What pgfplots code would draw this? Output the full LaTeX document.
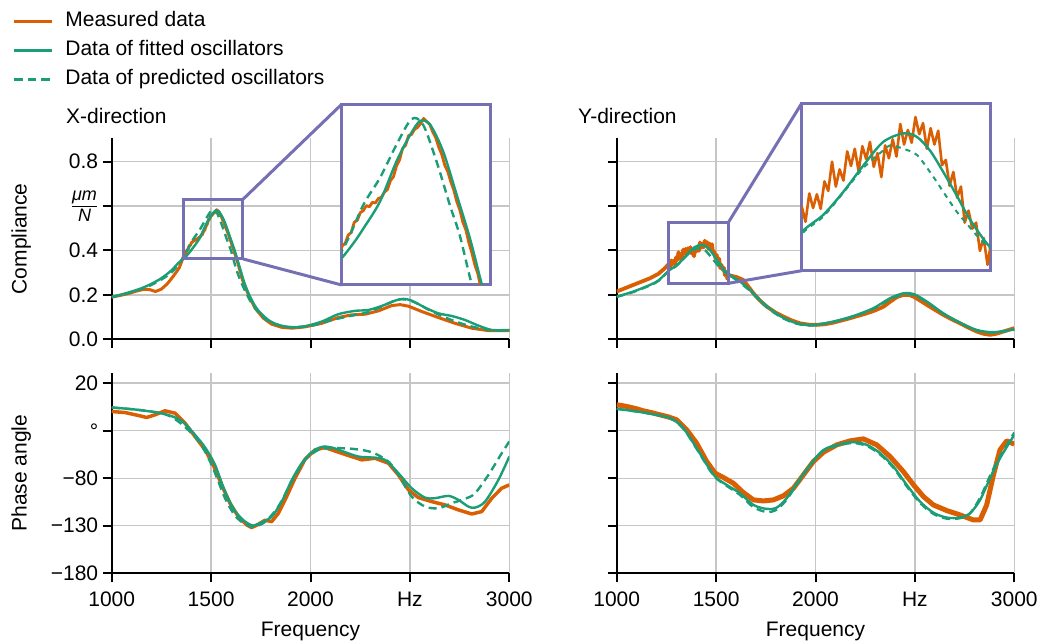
\documentclass[border=0pt]{standalone}
\usepackage{fontspec}
\setmainfont{Liberation Sans}
\usepackage{amsmath}
\usepackage{pgfplots}
\pgfplotsset{compat=1.18}
\usepackage{pgfplotstable}
\definecolor{cMeas}{HTML}{D95F02}
\definecolor{cFit}{HTML}{1B9E77}
\definecolor{cBox}{HTML}{7570B3}
\newcommand{\fz}{\fontsize{21}{25}\selectfont}
\newcommand{\munit}{$\genfrac{}{}{1.5pt}{}{\hbox{\fontsize{18}{20}\selectfont\itshape μm}}{\hbox{\fontsize{18}{20}\selectfont\itshape N}}$}

\pgfplotstableread{
f v
1000 0.190
1040 0.197
1080 0.205
1120 0.216
1160 0.225
1190 0.224
1220 0.215
1250 0.226
1280 0.250
1310 0.284
1340 0.322
1360 0.370
1366 0.384
1372 0.388
1378 0.401
1384 0.405
1390 0.421
1396 0.424
1402 0.436
1408 0.439
1414 0.447
1420 0.445
1426 0.452
1432 0.451
1438 0.458
1444 0.460
1450 0.468
1456 0.472
1462 0.486
1468 0.492
1474 0.509
1480 0.518
1486 0.536
1492 0.541
1498 0.556
1504 0.558
1510 0.566
1516 0.569
1522 0.575
1528 0.583
1534 0.578
1540 0.574
1546 0.562
1552 0.553
1558 0.538
1564 0.527
1570 0.510
1576 0.500
1582 0.484
1588 0.471
1594 0.453
1600 0.440
1606 0.421
1612 0.409
1618 0.389
1624 0.373
1630 0.354
1636 0.340
1642 0.318
1648 0.302
1654 0.280
1660 0.262
1688 0.200
1721 0.140
1763 0.095
1805 0.068
1855 0.054
1906 0.050
1973 0.056
2057 0.072
2140 0.098
2207 0.110
2275 0.113
2342 0.128
2409 0.152
2451 0.156
2493 0.149
2560 0.125
2643 0.098
2727 0.072
2811 0.050
2895 0.039
3000 0.039
}\LTmeas

\pgfplotstableread{
f v
1000 0.191
1050 0.202
1100 0.215
1150 0.230
1200 0.250
1250 0.275
1300 0.310
1335 0.343
1365 0.365
1390 0.390
1408 0.411
1441 0.453
1474 0.516
1501 0.557
1521 0.579
1541 0.573
1567 0.531
1594 0.463
1620 0.396
1643 0.326
1671 0.245
1704 0.177
1738 0.129
1788 0.087
1838 0.065
1906 0.054
1973 0.059
2057 0.080
2140 0.113
2224 0.128
2291 0.132
2358 0.150
2425 0.174
2467 0.182
2509 0.174
2576 0.143
2643 0.117
2710 0.105
2777 0.087
2844 0.062
2912 0.042
3000 0.042
}\LTfit

\pgfplotstableread{
f v
1000 0.190
1100 0.212
1200 0.245
1300 0.300
1368 0.380
1408 0.448
1441 0.490
1474 0.542
1504 0.582
1527 0.573
1554 0.515
1580 0.448
1600 0.400
1623 0.326
1645 0.270
1670 0.220
1700 0.168
1740 0.120
1790 0.080
1850 0.062
1900 0.055
2000 0.060
2100 0.085
2200 0.105
2300 0.125
2400 0.165
2450 0.180
2500 0.175
2550 0.155
2600 0.130
2700 0.090
2800 0.060
2900 0.042
3000 0.040
}\LTpred

\pgfplotstableread{
f v
1000 -9.8
1067 -10.9
1134 -14.0
1176 -16.1
1218 -13.3
1268 -9.1
1319 -11.6
1369 -22.1
1419 -36.1
1470 -50.2
1511 -66.0
1553 -87.0
1595 -106.3
1637 -120.4
1679 -129.1
1704 -131.9
1738 -128.4
1771 -124.2
1805 -125.6
1838 -116.9
1880 -99.3
1922 -80.0
1973 -60.0
2023 -50.2
2073 -47.7
2140 -52.6
2207 -57.2
2258 -60.7
2325 -59.0
2392 -64.2
2442 -76.5
2493 -92.3
2543 -100.4
2610 -104.6
2677 -108.1
2744 -113.3
2811 -117.6
2861 -115.1
2912 -101.0
2962 -90.5
3000 -87.0
}\LBmeas

\pgfplotstableread{
f v
1000 -5.6
1134 -8.1
1268 -12.6
1352 -19.7
1419 -34.4
1470 -47.7
1520 -66.0
1570 -94.0
1620 -114.4
1671 -125.6
1713 -129.8
1755 -126.3
1805 -120.4
1855 -104.6
1906 -81.8
1956 -64.2
2006 -52.6
2057 -47.0
2107 -47.7
2174 -52.6
2241 -57.2
2308 -58.2
2375 -60.7
2442 -74.7
2509 -90.5
2576 -100.4
2626 -101.0
2694 -98.6
2744 -102.8
2794 -109.8
2828 -110.9
2878 -104.6
2945 -81.8
3000 -57.2
}\LBfit

\pgfplotstableread{
f v
1000 -5.6
1268 -12.6
1402 -32.6
1470 -52.0
1520 -74.7
1570 -101.0
1620 -119.3
1671 -128.4
1713 -130.9
1771 -126.0
1838 -109.8
1906 -83.5
1973 -60.7
2040 -50.2
2107 -48.4
2207 -49.0
2308 -52.6
2392 -62.5
2442 -76.5
2509 -99.3
2576 -109.8
2643 -111.6
2710 -106.3
2777 -101.7
2828 -95.8
2895 -76.5
2962 -53.7
3000 -41.4
}\LBpred

\pgfplotstableread{
f v
1000 0.215
1042 0.230
1084 0.245
1126 0.260
1168 0.275
1210 0.295
1240 0.318
1263 0.340
1269 0.322
1275 0.355
1281 0.338
1287 0.354
1293 0.337
1299 0.369
1305 0.358
1311 0.392
1317 0.363
1323 0.383
1329 0.370
1335 0.404
1341 0.387
1347 0.407
1353 0.381
1359 0.410
1365 0.395
1371 0.415
1377 0.386
1383 0.402
1389 0.374
1395 0.411
1401 0.396
1407 0.418
1413 0.398
1419 0.436
1425 0.412
1431 0.429
1437 0.414
1443 0.444
1449 0.424
1455 0.437
1461 0.407
1467 0.431
1473 0.412
1479 0.428
1485 0.388
1491 0.394
1497 0.364
1503 0.380
1509 0.350
1515 0.363
1521 0.321
1527 0.335
1533 0.314
1539 0.321
1545 0.288
1551 0.303
1557 0.272
1561 0.290
1580 0.285
1604 0.280
1637 0.267
1660 0.240
1688 0.207
1720 0.175
1755 0.147
1800 0.120
1839 0.102
1880 0.085
1922 0.072
1964 0.066
2006 0.065
2048 0.068
2090 0.075
2132 0.085
2174 0.095
2216 0.106
2258 0.117
2300 0.130
2342 0.147
2380 0.172
2409 0.190
2442 0.200
2470 0.200
2493 0.192
2525 0.175
2560 0.155
2600 0.133
2643 0.110
2685 0.090
2727 0.072
2770 0.052
2811 0.035
2845 0.025
2878 0.020
2910 0.025
2945 0.035
3000 0.050
}\RTmeas

\pgfplotstableread{
f v
1000 0.192
1084 0.215
1168 0.245
1210 0.265
1263 0.310
1297 0.330
1329 0.357
1361 0.388
1392 0.415
1424 0.425
1445 0.421
1466 0.405
1487 0.380
1508 0.353
1529 0.325
1558 0.295
1580 0.283
1620 0.260
1671 0.222
1738 0.162
1822 0.105
1906 0.072
1989 0.065
2090 0.080
2191 0.105
2291 0.140
2375 0.185
2442 0.207
2493 0.204
2560 0.170
2643 0.117
2727 0.075
2811 0.042
2895 0.032
3000 0.045
}\RTfit

\pgfplotstableread{
f v
1000 0.191
1084 0.213
1168 0.243
1210 0.263
1263 0.308
1297 0.328
1329 0.356
1361 0.385
1392 0.405
1403 0.411
1424 0.407
1445 0.400
1466 0.380
1487 0.357
1508 0.334
1524 0.320
1540 0.306
1558 0.293
1580 0.281
1620 0.255
1671 0.218
1738 0.158
1822 0.102
1906 0.070
1989 0.063
2090 0.078
2191 0.103
2291 0.137
2375 0.180
2442 0.202
2493 0.200
2560 0.167
2643 0.115
2727 0.073
2811 0.040
2895 0.030
3000 0.043
}\RTpred

\pgfplotstableread{
f v
1000 -2.8
1025 -3.5
1067 -5.3
1100 -7.0
1134 -9.1
1175 -11.0
1218 -13.3
1260 -15.5
1302 -18.6
1352 -29.1
1402 -43.2
1453 -62.5
1495 -74.7
1537 -79.3
1587 -85.3
1637 -95.1
1688 -102.8
1738 -103.9
1788 -102.8
1838 -98.6
1889 -90.5
1939 -76.5
1989 -62.5
2040 -52.6
2107 -44.9
2174 -40.7
2241 -38.6
2308 -44.9
2375 -57.2
2442 -73.0
2493 -87.0
2543 -99.3
2593 -108.1
2660 -114.0
2727 -118.6
2794 -123.9
2828 -123.9
2861 -108.1
2895 -76.5
2928 -50.2
2962 -40.7
3000 -44.2
}\RBmeas

\pgfplotstableread{
f v
1000 -7.0
1134 -10.9
1268 -16.8
1335 -27.4
1402 -48.4
1470 -71.2
1503 -80.0
1553 -87.0
1620 -95.8
1688 -108.1
1755 -112.3
1805 -110.9
1855 -101.0
1906 -85.3
1973 -66.0
2040 -50.2
2124 -44.2
2191 -42.1
2258 -44.9
2325 -53.7
2392 -67.8
2459 -87.0
2526 -104.6
2593 -116.2
2660 -121.4
2727 -121.4
2777 -116.9
2828 -102.8
2878 -80.0
2928 -59.0
3000 -34.4
}\RBfit

\pgfplotstableread{
f v
1000 -7.0
1134 -10.9
1268 -16.8
1335 -27.8
1402 -49.0
1470 -72.0
1503 -80.5
1553 -88.0
1620 -97.5
1688 -110.5
1755 -115.5
1805 -113.0
1855 -102.5
1906 -86.5
1973 -66.5
2040 -51.0
2124 -45.0
2191 -43.0
2258 -46.0
2325 -55.0
2392 -69.0
2459 -88.5
2526 -106.0
2593 -117.5
2660 -122.5
2727 -122.0
2777 -117.0
2828 -100.5
2878 -77.5
2928 -57.0
3000 -32.0
}\RBpred

\pgfplotsset{
  base/.style={
    scale only axis, width=397.6pt,
    xmin=1000, xmax=3000,
    axis lines=left,
    axis line style={line width=2pt, black, -},
    x axis line style={-}, y axis line style={-},
    tick align=outside, major tick length=9pt,
    tick style={line width=2pt, black},
    xtick={1000,1500,2000,2500,3000},
    grid=major, grid style={line width=1.4pt, gray!45},
    ticklabel style={font=\fz},
    yticklabel style={xshift=-1pt},
    xticklabel style={yshift=-6pt},
    label style={font=\fz},
    title style={font=\fz, anchor=base west, inner sep=0pt},
  },
  comp/.style={base, height=201pt, ymin=0, ymax=0.905,
    ytick={0,0.2,0.4,0.6,0.8}, yticklabels={0.0,0.2,0.4,{\munit},0.8},
    xticklabels={}},
  phase/.style={base, height=200.6pt, ymin=-180, ymax=31,
    ytick={-180,-130,-80,-30,20}, yticklabels={−180,−130,−80,°,20},
    xticklabels={1000,1500,2000,Hz,3000},
    xlabel={Frequency},
    xlabel style={at={(axis description cs:0.5,-0.2876)}, anchor=center}},
  inset/.style={scale only axis, xtick=\empty, ytick=\empty,
    axis line style={cBox, line width=3pt},
    axis background/.style={fill=white}},
  meas/.style={cMeas, line width=3pt, line join=round},
  fit/.style={cFit, line width=2.4pt, smooth},
  pred/.style={cFit, line width=2.4pt, smooth, dash pattern=on 8pt off 5pt},
}

\begin{document}
\begin{tikzpicture}[x=1pt,y=1pt]
\useasboundingbox (0,0) rectangle (1041,643);

% ---------- top left ----------
\begin{axis}[comp, at={(111.7pt,303.7pt)}, anchor=south west,
  ylabel={Compliance},
  ylabel style={at={(axis description cs:-0.2274,0.5)}, anchor=center},
  title={X-direction}, title style={at={(axis description cs:-0.115,1.046)}},
  legend style={at={(axis description cs:-0.249,1.633)}, anchor=north west,
    draw=none, fill=none, inner sep=0pt, font=\fz, row sep=9pt, column sep=12pt,
    nodes={inner sep=0pt, text height=15pt, text depth=5pt}, cells={anchor=west}},
  legend image code/.code={\draw[#1] (0pt,0pt) -- (38pt,0pt);},
]
\addlegendimage{cMeas, line width=2.5pt}
\addlegendentry{Measured data}
\addlegendimage{cFit, line width=2.5pt}
\addlegendentry{Data of fitted oscillators}
\addlegendimage{cFit, line width=2.5pt, dash pattern=on 8.5pt off 5pt}
\addlegendentry{Data of predicted oscillators}
\addplot[meas, forget plot] table[x=f,y=v] {\LTmeas};
\addplot[fit, forget plot] table[x=f,y=v] {\LTfit};
\addplot[pred, forget plot] table[x=f,y=v] {\LTpred};
\draw[cBox, line width=3pt] (axis cs:1362,0.362) rectangle (axis cs:1660,0.630);
\coordinate (bL1) at (axis cs:1660,0.630);
\coordinate (bL2) at (axis cs:1660,0.362);
\end{axis}

% ---------- bottom left ----------
\begin{axis}[phase, at={(111.7pt,69.7pt)}, anchor=south west,
  ylabel={Phase angle},
  ylabel style={at={(axis description cs:-0.2274,0.5)}, anchor=center}]
\addplot[meas, line width=3.5pt] table[x=f,y=v] {\LBmeas};
\addplot[fit] table[x=f,y=v] {\LBfit};
\addplot[pred] table[x=f,y=v] {\LBpred};
\end{axis}

% ---------- top right ----------
\begin{axis}[comp, at={(616.7pt,303.7pt)}, anchor=south west, yticklabels={},
  title={Y-direction}, title style={at={(axis description cs:-0.0973,1.046)}}]
\addplot[meas, line width=3.8pt] table[x=f,y=v] {\RTmeas};
\addplot[fit] table[x=f,y=v] {\RTfit};
\addplot[pred] table[x=f,y=v] {\RTpred};
\draw[cBox, line width=3pt] (axis cs:1263,0.252) rectangle (axis cs:1561,0.525);
\coordinate (bR1) at (axis cs:1561,0.525);
\coordinate (bR2) at (axis cs:1561,0.252);
\end{axis}

% ---------- bottom right ----------
\begin{axis}[phase, at={(616.7pt,69.7pt)}, anchor=south west, yticklabels={}]
\addplot[meas, line width=5pt] table[x=f,y=v] {\RBmeas};
\addplot[fit] table[x=f,y=v] {\RBfit};
\addplot[pred] table[x=f,y=v] {\RBpred};
\end{axis}

% ---------- insets ----------
\begin{axis}[inset, name=insL, at={(341.7pt,358pt)}, anchor=south west,
  width=148.3pt, height=180.7pt, xmin=1365, xmax=1660, ymin=0.323, ymax=0.605]
\addplot[meas, line width=2.8pt] table[x=f,y=v] {\LTmeas};
\addplot[fit] table[x=f,y=v] {\LTfit};
\addplot[pred] table[x=f,y=v] {\LTpred};
\end{axis}

\begin{axis}[inset, name=insR, at={(801.7pt,372.3pt)}, anchor=south west,
  width=188.3pt, height=167.4pt, xmin=1263, xmax=1561, ymin=0.265, ymax=0.46]
\addplot[meas, line width=2.6pt] table[x=f,y=v] {\RTmeas};
\addplot[fit] table[x=f,y=v] {\RTfit};
\addplot[pred, line width=2pt, dash pattern=on 5pt off 5pt] table[x=f,y=v] {\RTpred};
\end{axis}

\draw[cBox, line width=3pt] (bL1) -- (insL.north west);
\draw[cBox, line width=3pt] (bL2) -- (insL.south west);
\draw[cBox, line width=3pt] (bR1) -- (insR.north west);
\draw[cBox, line width=3pt] (bR2) -- (insR.south west);
\end{tikzpicture}
\end{document}
